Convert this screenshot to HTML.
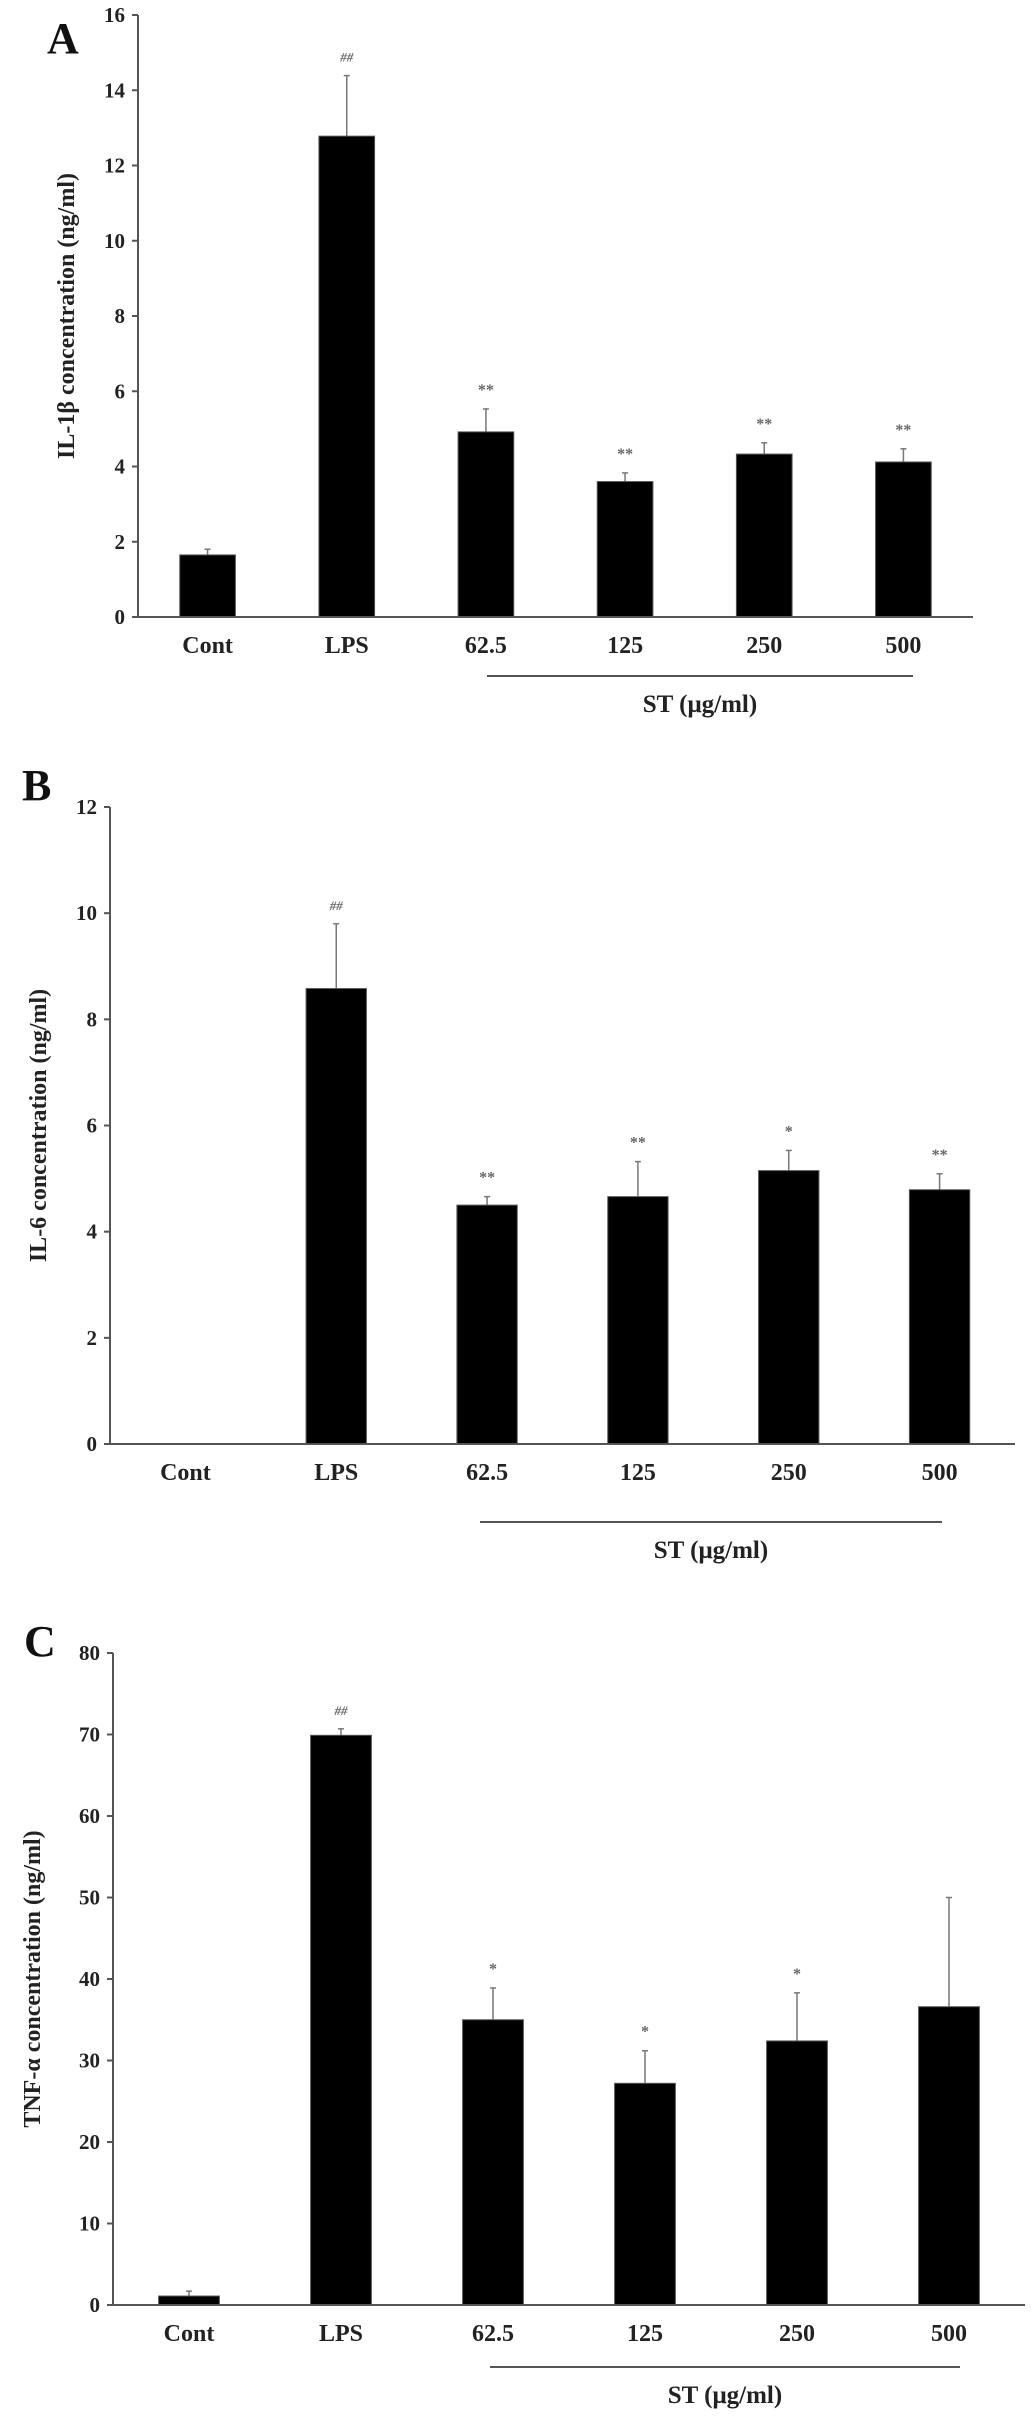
<!DOCTYPE html>
<html><head><meta charset="utf-8"><style>
html,body{margin:0;padding:0;background:#fff;}
svg{display:block;font-family:"Liberation Serif",serif;}
</style></head><body>
<svg id="fig" width="1033" height="2416" viewBox="0 0 1033 2416" xmlns="http://www.w3.org/2000/svg"></svg>
<script>
const categories = ["Cont","LPS","62.5","125","250","500"];
// Panel A: IL-1β
const aValues = [1.65, 12.78, 4.92, 3.6, 4.33, 4.12];
const aErrors = [0.15, 1.61, 0.61, 0.23, 0.3, 0.35];
const aSig = ["", "##", "**", "**", "**", "**"];
const aTicks = [0,2,4,6,8,10,12,14,16];
// Panel B: IL-6
const bValues = [0, 8.58, 4.5, 4.66, 5.15, 4.79];
const bErrors = [0, 1.22, 0.16, 0.66, 0.38, 0.3];
const bSig = ["", "##", "**", "**", "*", "**"];
const bTicks = [0,2,4,6,8,10,12];
// Panel C: TNF-α
const cValues = [1.1, 69.9, 35.0, 27.2, 32.4, 36.6];
const cErrors = [0.6, 0.8, 3.9, 4.0, 5.9, 13.4];
const cSig = ["", "##", "*", "*", "*", ""];
const cTicks = [0,10,20,30,40,50,60,70,80];

const NS = "http://www.w3.org/2000/svg";
const svg = document.getElementById("fig");
function mk(tag, attrs, parent){
  const e = document.createElementNS(NS, tag);
  for (const k in attrs) e.setAttribute(k, attrs[k]);
  (parent||svg).appendChild(e);
  return e;
}

function panel(cfg){
  const g = mk("g", {});
  
  
  const x0 = cfg.x0, x1 = cfg.x1, yTop = cfg.yTop, yZero = cfg.yZero;
  const maxV = cfg.ticks[cfg.ticks.length-1];
  const y = v => yZero - (v / maxV) * (yZero - yTop);
  const band = (x1 - x0) / categories.length;
  const xc = i => x0 + band * (i + 0.5);
  const bw = band * 0.4;

  const letter = mk("text", {x: cfg.letterX, y: cfg.letterY, "font-size": 44, "font-weight": "bold", fill: "#111"}, g);
  letter.textContent = cfg.id;
  
  

  // bars
  categories.forEach((c, i) => {
    const v = cfg.values[i], e = cfg.errors[i];
    if (e > 0) {
      const eb = mk("line", {x1: xc(i), x2: xc(i), y1: y(v), y2: y(v+e), stroke: "#777", "stroke-width": 1.5}, g);
      
      
      const cap = mk("line", {x1: xc(i)-3, x2: xc(i)+3, y1: y(v+e), y2: y(v+e), stroke: "#777", "stroke-width": 1.5}, g);
      
      
    }
    if (v > 0) {
      const r = mk("rect", {x: xc(i)-bw/2, y: y(v), width: bw, height: yZero - y(v), fill: "#000", stroke: "#555", "stroke-width": 1}, g);
      
      
    }
    if (cfg.sig[i]) {
      const s = mk("text", {x: xc(i), y: y(v+e) - 14, "text-anchor": "middle", "font-size": cfg.sig[i]==="##" ? 13 : 16, "font-weight": "bold", fill: "#666", "font-style": cfg.sig[i]==="##" ? "italic" : "normal"}, g);
      s.textContent = cfg.sig[i];
      
      
    }
    const lbl = mk("text", {x: xc(i), y: yZero + 36, "text-anchor": "middle", "font-size": 24, "font-weight": "bold", fill: "#222"}, g);
    lbl.textContent = c;
    
    
  });

  // axes
  const ya = mk("line", {x1: x0, x2: x0, y1: yTop, y2: yZero, stroke: "#555", "stroke-width": 2}, g);
  
  
  const xa = mk("line", {x1: x0 - 6, x2: x1, y1: yZero, y2: yZero, stroke: "#555", "stroke-width": 2}, g);
  
  

  cfg.ticks.forEach(t => {
    const tk = mk("line", {x1: x0 - 6, x2: x0, y1: y(t), y2: y(t), stroke: "#555", "stroke-width": 2}, g);
    
    
    const tl = mk("text", {x: x0 - 13, y: y(t) + 7, "text-anchor": "end", "font-size": 21, "font-weight": "bold", fill: "#222"}, g);
    tl.textContent = t;
    
    
  });

  const ymid = (yTop + yZero) / 2;
  const yt = mk("text", {x: cfg.titleX, y: ymid, "text-anchor": "middle", "font-size": 24, "font-weight": "bold", fill: "#222", transform: "rotate(-90 " + cfg.titleX + " " + ymid + ")"}, g);
  yt.textContent = cfg.title;
  
  

  const st = mk("line", {x1: cfg.stX0, x2: cfg.stX1, y1: cfg.stY, y2: cfg.stY, stroke: "#555", "stroke-width": 2}, g);
  
  
  const stl = mk("text", {x: (cfg.stX0 + cfg.stX1)/2, y: cfg.stY + 36, "text-anchor": "middle", "font-size": 25, "font-weight": "bold", fill: "#222"}, g);
  stl.textContent = "ST (μg/ml)";
  
  
}

panel({id:"A", values:aValues, errors:aErrors, sig:aSig, ticks:aTicks, x0:138, x1:973, yTop:15, yZero:617,
  letterX:47, letterY:53, titleX:74, title:"IL-1β concentration (ng/ml)", stX0:487, stX1:913, stY:676});
panel({id:"B", values:bValues, errors:bErrors, sig:bSig, ticks:bTicks, x0:110, x1:1015, yTop:807, yZero:1444,
  letterX:22, letterY:800, titleX:46, title:"IL-6 concentration (ng/ml)", stX0:480, stX1:942, stY:1522});
panel({id:"C", values:cValues, errors:cErrors, sig:cSig, ticks:cTicks, x0:113, x1:1025, yTop:1653, yZero:2305,
  letterX:24, letterY:1656, titleX:40, title:"TNF-α concentration (ng/ml)", stX0:490, stX1:960, stY:2367});
</script>
</body></html>
